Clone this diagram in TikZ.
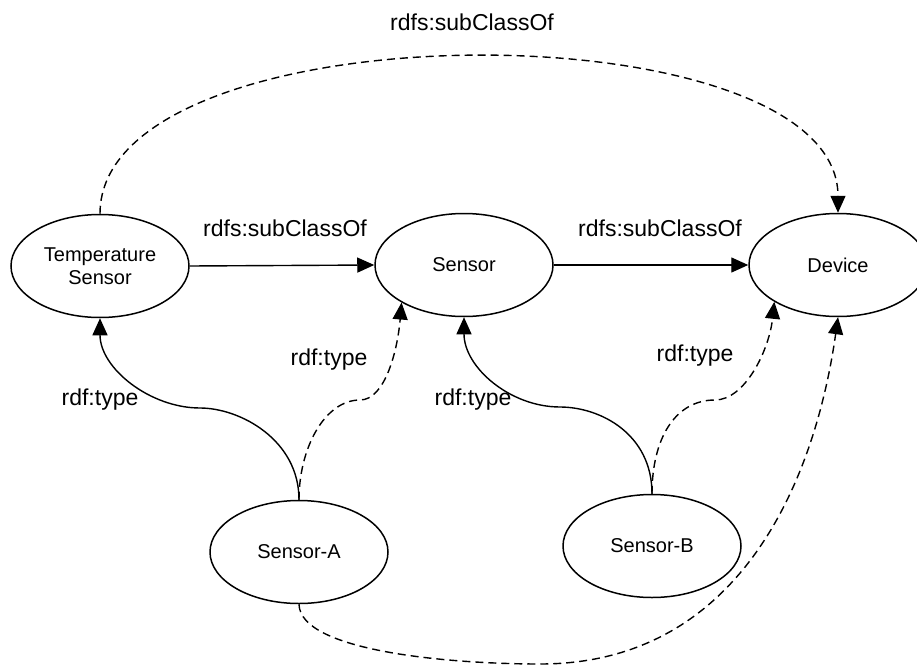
\documentclass[tikz,border=0pt]{standalone}
\usepackage{fontspec}
\setmainfont{Liberation Sans}
\usetikzlibrary{shapes.geometric,arrows.meta}
\begin{document}
\begin{tikzpicture}[x=1pt,y=-1pt,
  ent/.style={draw, ellipse, line width=1.5pt, minimum width=178pt, minimum height=103pt, inner sep=0pt, align=center, font=\fontsize{20}{23}\selectfont},
  lbl/.style={font=\fontsize{23}{27}\selectfont, inner sep=0pt},
  arr/.style={-{Triangle[length=17pt,width=15pt]}, line width=1.4pt},
  dsh/.style={dash pattern=on 8pt off 5pt}]
\useasboundingbox (0,0) rectangle (917,666);
\fill[white] (0,0) rectangle (917,666);
% nodes
\node[ent] (ts) at (100,266) {Temperature\\Sensor};
\node[ent] (sensor) at (464,265) {Sensor};
\node[ent] (device) at (838,265) {Device};
\node[ent] (sa) at (299,552) {Sensor-A};
\node[ent] (sb) at (652,546) {Sensor-B};
% waypoints
\coordinate (wTS) at (200,408);
\coordinate (wSA) at (360,400);
\coordinate (wSB) at (560,407);
\coordinate (wSD) at (715,400);
\coordinate (wBot) at (540,664);
% connectors
\draw[arr] (ts.east) -- (sensor.west);
\draw[arr] (sensor.east) -- (device.west);
\draw[arr,dsh] (ts.north) .. controls +(0,-208) and +(0,-208) .. (device.north);
\draw[arr] (sa.north) .. controls +(0,-60) and +(40,0) .. (wTS) .. controls +(-50,0) and +(0,50) .. (ts.south);
\draw[arr,dsh] (sa.north) .. controls +(0,-52) and +(-35,0) .. (wSA) .. controls +(25,0) and +(-4,48) .. (sensor.211);
\draw[arr] (sb.north) .. controls +(0,-60) and +(40,0) .. (wSB) .. controls +(-50,0) and +(0,50) .. (sensor.south);
\draw[arr,dsh] (sb.north) .. controls +(0,-55) and +(-40,0) .. (wSD) .. controls +(30,0) and +(-5,48) .. (device.210);
\draw[arr,dsh] (sa.south) .. controls +(1,47) and +(-90,0) .. (wBot) .. controls +(200,0) and +(-23,163) .. (device.south);
% labels
\node[lbl] (l1) at (472,22) {rdfs:subClassOf};
\node[lbl] (l2) at (285,228) {rdfs:subClassOf};
\node[lbl] (l3) at (660,228) {rdfs:subClassOf};
\node[lbl] (l4) at (100,400) {rdf:type};
\node[lbl] (l5) at (329,360) {rdf:type};
\node[lbl] (l6) at (473,400) {rdf:type};
\node[lbl] (l7) at (695,356) {rdf:type};
\end{tikzpicture}
\end{document}
